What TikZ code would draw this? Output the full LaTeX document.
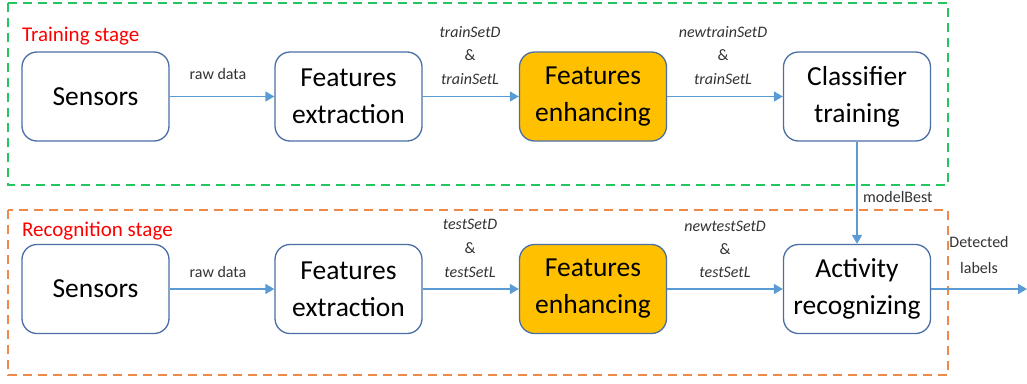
\documentclass[tikz,border=0pt]{standalone}
\usepackage{fontspec}
\setmainfont{Carlito}
\usetikzlibrary{arrows.meta}
\definecolor{boxline}{HTML}{4A6FA5}
\definecolor{arrowc}{HTML}{5B9BD5}
\definecolor{enh}{HTML}{FFC000}
\definecolor{grn}{HTML}{22C55E}
\definecolor{orn}{HTML}{F0884A}
\tikzset{
  procbox/.style={draw=boxline, line width=1.3pt, rounded corners=15pt, fill=white,
    minimum width=147pt, minimum height=89pt, align=center, font=\fontsize{27.5}{37}\selectfont, inner sep=0pt},
  enhbox/.style={procbox, fill=enh},
  flow/.style={draw=arrowc, line width=1.6pt, -{Triangle[length=9pt,width=10pt]}},
  lbl/.style={font=\fontsize{16}{18}\selectfont, text=black!80, inner sep=0pt},
  ilbl/.style={font=\fontsize{16}{18}\selectfont\itshape, text=black!80, inner sep=0pt},
  stagebox/.style={dashed, line width=1.6pt, dash pattern=on 9pt off 6pt},
  stagelbl/.style={font=\fontsize{21}{24}\selectfont, text=red, anchor=west, inner sep=0pt}
}
\begin{document}
\begin{tikzpicture}[x=1pt,y=-1pt]
\useasboundingbox (0,0) rectangle (1027,383);
\draw[stagebox, draw=grn] (8,3) rectangle (948,185);
\draw[stagebox, draw=orn] (8,210) rectangle (948,375);
\node[stagelbl] (tl) at (22,36) {Training stage};
\node[stagelbl] (rl) at (22,231) {Recognition stage};
% top row
\node[procbox] (s1) at (95.5,96.5) {Sensors};
\node[procbox] (f1) at (348.5,96.5) {Features\\extraction};
\node[enhbox] (e1) at (593,96.5) {Features\\enhancing};
\node[procbox] (c1) at (857,96.5) {Classifier\\training};
% bottom row
\node[procbox] (s2) at (95.5,289) {Sensors};
\node[procbox] (f2) at (348.5,289) {Features\\extraction};
\node[enhbox] (e2) at (593,289) {Features\\enhancing};
\node[procbox] (a2) at (857,289) {Activity\\recognizing};
\coordinate (out) at (1027,289);
% arrows
\draw[flow] (s1) -- (f1);
\draw[flow] (f1) -- (e1);
\draw[flow] (e1) -- (c1);
\draw[flow] (c1) -- (a2);
\draw[flow] (s2) -- (f2);
\draw[flow] (f2) -- (e2);
\draw[flow] (e2) -- (a2);
\draw[flow] (a2) -- (out);
% labels
\node[lbl] (l1) at (218,74) {raw data};
\node[ilbl] (l2a) at (470,32) {trainSetD};
\node[lbl] (l2b) at (470,55) {\&};
\node[ilbl] (l2c) at (470,79) {trainSetL};
\node[ilbl] (l3a) at (723,32) {newtrainSetD};
\node[lbl] (l3b) at (723,55) {\&};
\node[ilbl] (l3c) at (723,79) {trainSetL};
\node[lbl, anchor=west] (lm) at (863,197) {modelBest};
\node[lbl] (l4) at (218,272) {raw data};
\node[ilbl] (l5a) at (470,224) {testSetD};
\node[lbl] (l5b) at (470,248) {\&};
\node[ilbl] (l5c) at (470,272) {testSetL};
\node[ilbl] (l6a) at (725,226) {newtestSetD};
\node[lbl] (l6b) at (725,249) {\&};
\node[ilbl] (l6c) at (725,272) {testSetL};
\node[lbl] (ld1) at (979,242) {Detected};
\node[lbl] (ld2) at (979,268) {labels};
\end{tikzpicture}
\end{document}
